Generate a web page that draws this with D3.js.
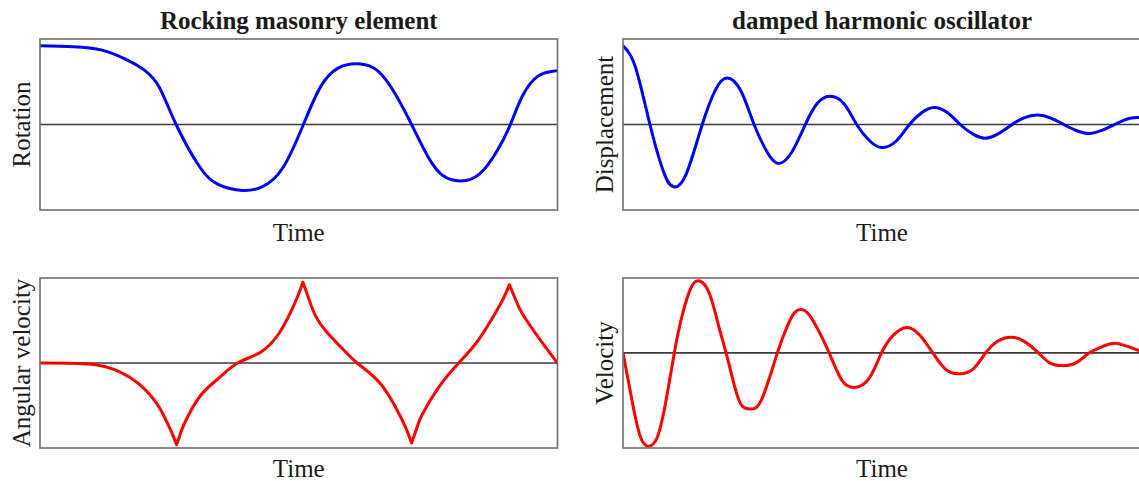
<!DOCTYPE html>
<html lang='en'>
<head>
	<meta charset='utf-8'>
	<title>Rocking masonry element vs damped harmonic oscillator</title>
	<script src="https://d3js.org/d3.v7.min.js"></script>
	<style>
		body{margin:0;background:#fff;}
		text{font-family:"Liberation Serif","Times New Roman",serif;fill:#1a1a1a;}
	</style>
</head>
<body>
<div id='chart'></div>
<script type='text/javascript'>
	// values: [time 0-100, normalised value]
	const rotation = [[0,0.92],[6.4,0.91],[12,0.87],[17,0.75],[20.3,0.63],[23.1,0.43],[26.3,0],[30.9,-0.5],[34.4,-0.7],[38.7,-0.77],[42.9,-0.73],[47,-0.5],[50.9,0],[54.2,0.44],[57.6,0.66],[61.5,0.71],[65.4,0.62],[68.9,0.33],[71.8,0],[75,-0.38],[77.9,-0.6],[81.2,-0.66],[84.9,-0.58],[88.4,-0.3],[90.9,0],[93.2,0.33],[96.1,0.56],[98.8,0.62],[100,0.63]];
	const angularVelocity = [[0,0],[9.95,-0.016],[15.5,-0.107],[19.1,-0.245],[22.6,-0.48],[24.7,-0.72],[25.55,-0.83],[26.4,-0.96],[27.2,-0.82],[28,-0.7],[30.8,-0.4],[34.3,-0.19],[38.2,0],[42.7,0.13],[46.2,0.35],[48.3,0.58],[49.7,0.77],[50.8,0.95],[51.8,0.78],[53.2,0.56],[55.3,0.37],[58.1,0.19],[61.3,0],[65.8,-0.245],[69.4,-0.6],[70.8,-0.78],[71.8,-0.94],[72.9,-0.75],[73.9,-0.6],[77.1,-0.28],[80.9,0],[84.7,0.27],[88.3,0.62],[89.7,0.78],[90.7,0.92],[91.8,0.76],[93.2,0.58],[96.7,0.27],[100,0]];
	// impacts: the angular velocity reverses sharply here
	const impactTimes = [26.4,50.8,71.8,90.7];
	const displacement = [[0,0.92],[2.4,0.67],[5.2,0],[8,-0.58],[9.9,-0.73],[12.2,-0.58],[15.3,0],[17.8,0.4],[20,0.545],[22.7,0.4],[25.3,0],[27.9,-0.33],[30,-0.455],[32.5,-0.33],[35.2,0],[37.4,0.24],[39.9,0.33],[42.7,0.24],[45.1,0],[47.6,-0.19],[50,-0.27],[52.8,-0.19],[55.3,0],[57.7,0.14],[60,0.2],[62.6,0.14],[65.1,0],[67.5,-0.11],[69.9,-0.16],[72.4,-0.11],[75.1,0],[77.3,0.075],[80,0.11],[82.6,0.075],[85.1,0],[87.5,-0.07],[90,-0.105],[92.4,-0.07],[94.9,0],[97.7,0.07],[100,0.08]];
	const velocity = [[0,0],[2,-0.73],[3.4,-1.13],[4.8,-1.245],[6.6,-1.13],[8.3,-0.64],[9.9,0],[11.5,0.52],[13.2,0.88],[14.8,0.96],[16.7,0.79],[18.5,0.35],[19.9,0],[21.6,-0.46],[23,-0.71],[24.8,-0.75],[26.9,-0.6],[29.8,0],[31.8,0.37],[33.2,0.545],[34.8,0.575],[36.7,0.43],[39.8,0],[42.3,-0.37],[44.9,-0.46],[47.6,-0.33],[49.9,0],[52.1,0.23],[54.8,0.34],[57.4,0.23],[59.8,0],[62.3,-0.22],[64.7,-0.28],[67.5,-0.22],[70,0],[72.4,0.16],[74.8,0.21],[77.3,0.16],[80.2,0],[82.3,-0.13],[84.7,-0.17],[87.5,-0.13],[90,0],[92.4,0.08],[94.9,0.13],[97.7,0.08],[100,0.02]];

	const titles = ["Rocking masonry element","damped harmonic oscillator"];
	const yLabels = ["Rotation","Displacement","Angular velocity","Velocity"];
	const xLabel = "Time";

	const svg_block = {width:1139,height:481};
	const cols = [{left:40,right:557.5},{left:623,right:1141}];
	const rows = [{top:39,bottom:210,timeY:240.5},{top:278,bottom:448,timeY:476.5}];

	const panels = [
		{col:0,row:0,data:rotation,domain:[-1,1],color:'#0000ff',label:yLabels[0],breaks:[]},
		{col:1,row:0,data:displacement,domain:[-1,1],color:'#0000ff',label:yLabels[1],breaks:[]},
		{col:0,row:1,data:angularVelocity,domain:[-1,1],color:'#ff0000',label:yLabels[2],breaks:impactTimes},
		{col:1,row:1,data:velocity,domain:[-1.27,1],color:'#ff0000',label:yLabels[3],breaks:[]}
	];

	let svg = d3.select("#chart")
				.append("svg")
					.attr("width",svg_block.width)
					.attr("height",svg_block.height);

	//cut a series into pieces at the sharp points so the curve keeps its cusps
	function splitAt(data,breaks){
		let segs = [[]];
		data.forEach(function(d){
			segs[segs.length-1].push(d);
			if(breaks.includes(d[0])) segs.push([d]);
		});
		return segs.filter(s => s.length > 1);
	}

	titles.forEach(function(t,i){
		svg.append("text")
			.attr("x",(cols[i].left+cols[i].right)/2)
			.attr("y",rows[0].top-10.5)
			.attr("text-anchor","middle")
			.style("font-size","25px")
			.style("font-weight","bold")
			.text(t);
	});

	panels.forEach(function(p,i){
		let c = cols[p.col], r = rows[p.row];
		let x = d3.scaleLinear().domain([0,100]).range([c.left,c.right]);
		let y = d3.scaleLinear().domain(p.domain).range([r.bottom,r.top]);

		let g = svg.append("g");

		g.append("clipPath")
			.attr("id","clip"+i)
			.append("rect")
				.attr("x",c.left).attr("y",r.top)
				.attr("width",c.right-c.left).attr("height",r.bottom-r.top);

		//zero line
		g.append("line")
			.attr("x1",x(0)).attr("x2",x(100))
			.attr("y1",y(0)).attr("y2",y(0))
			.attr("stroke","#3a3a3a")
			.attr("stroke-width",1.6);

		let line = d3.line()
					.x(d => x(d[0]))
					.y(d => y(d[1]))
					.curve(d3.curveNatural);

		g.append("path")
			.attr("clip-path","url(#clip"+i+")")
			.attr("d",splitAt(p.data,p.breaks).map(s => line(s)).join(""))
			.attr("fill","none")
			.attr("stroke",p.color)
			.attr("stroke-width",3)
			.attr("stroke-linejoin","round")
			.attr("stroke-linecap","round");

		//frame
		g.append("rect")
			.attr("x",c.left).attr("y",r.top)
			.attr("width",c.right-c.left).attr("height",r.bottom-r.top)
			.attr("fill","none")
			.attr("stroke","#6e6e6e")
			.attr("stroke-width",1.6);

		g.append("text")
			.attr("x",(c.left+c.right)/2)
			.attr("y",r.timeY)
			.attr("text-anchor","middle")
			.style("font-size","25px")
			.text(xLabel);

		g.append("text")
			.attr("transform",`translate(${c.left-10.5},${(r.top+r.bottom)/2}) rotate(-90)`)
			.attr("text-anchor","middle")
			.style("font-size","25px")
			.text(p.label);
	});
</script>
</body>
</html>
